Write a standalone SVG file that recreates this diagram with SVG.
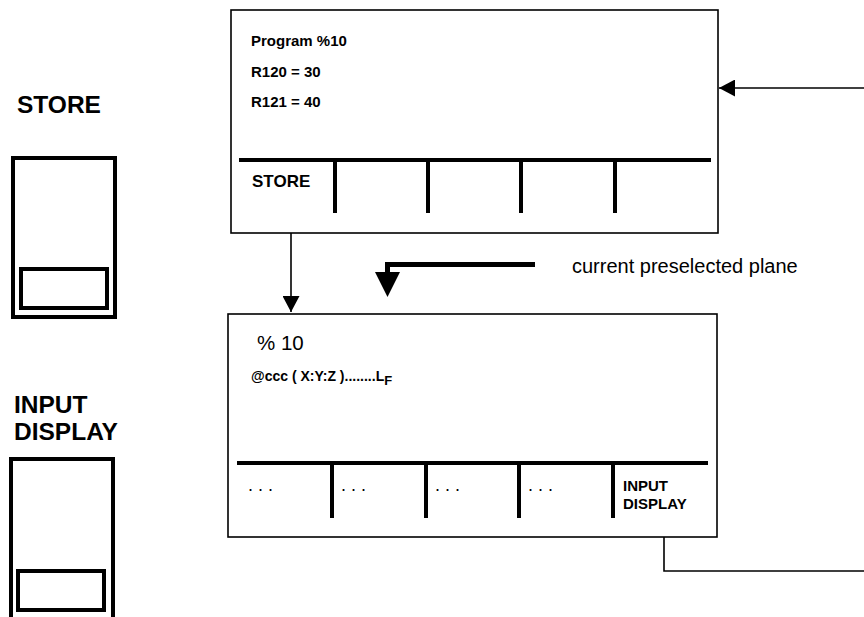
<svg xmlns="http://www.w3.org/2000/svg" width="864" height="617" viewBox="0 0 864 617">
<defs>
<style>
.box{fill:#fff;stroke:#000;stroke-width:1.6}
.thick{stroke:#000;stroke-width:4;fill:none}
.btn{fill:none;stroke:#000;stroke-width:4}
.thin{stroke:#000;stroke-width:1.6;fill:none}
text{font-family:"Liberation Sans",Arial,sans-serif;fill:#000}
.b{font-weight:bold}
</style>
<marker id="ah" markerWidth="17" markerHeight="17" refX="16" refY="8.5" orient="auto" markerUnits="userSpaceOnUse">
<path d="M0,0 L16,8.5 L0,17 Z" fill="#000"/>
</marker>
</defs>
<rect width="864" height="617" fill="#fff"/>

<g id="store-key">
<text class="b" x="17" y="113" font-size="24.5">STORE</text>
<rect class="btn" x="13" y="158" width="102" height="159"/>
<rect class="btn" x="21" y="269" width="86" height="39"/>
</g>

<g id="input-display-key">
<text class="b" x="14" y="413" font-size="24.5">INPUT</text>
<text class="b" x="14" y="440" font-size="24.5">DISPLAY</text>
<rect class="btn" x="11" y="459" width="102" height="162"/>
<rect class="btn" x="18" y="571" width="86" height="39"/>
</g>

<g id="screen-store">
<rect class="box" x="231" y="10" width="487" height="223"/>
<text class="b" x="251" y="46" font-size="15">Program %10</text>
<text class="b" x="251" y="77" font-size="15">R120 = 30</text>
<text class="b" x="251" y="107" font-size="15">R121 = 40</text>
<line class="thick" x1="239" y1="160" x2="711" y2="160"/>
<line class="thick" x1="335" y1="160" x2="335" y2="213"/>
<line class="thick" x1="428" y1="160" x2="428" y2="213"/>
<line class="thick" x1="521" y1="160" x2="521" y2="213"/>
<line class="thick" x1="615" y1="160" x2="615" y2="213"/>
<text class="b" x="252" y="187" font-size="17">STORE</text>
</g>

<g id="screen-input">
<rect class="box" x="228" y="314" width="489" height="223"/>
<text x="257" y="350" font-size="20.5">% 10</text>
<text class="b" x="251" y="381" font-size="14">@ccc ( X:Y:Z )........L<tspan font-size="13" dy="4">F</tspan></text>
<line class="thick" x1="237" y1="463" x2="708" y2="463"/>
<line class="thick" x1="332" y1="463" x2="332" y2="518"/>
<line class="thick" x1="426" y1="463" x2="426" y2="518"/>
<line class="thick" x1="519" y1="463" x2="519" y2="518"/>
<line class="thick" x1="613" y1="463" x2="613" y2="518"/>
<text x="248" y="491" font-size="18">. . .</text>
<text x="341" y="491" font-size="18">. . .</text>
<text x="435" y="491" font-size="18">. . .</text>
<text x="528" y="491" font-size="18">. . .</text>
<text class="b" x="623" y="491" font-size="15">INPUT</text>
<text class="b" x="623" y="509" font-size="15">DISPLAY</text>
</g>

<g id="plane-note">
<text x="572" y="273" font-size="20">current preselected plane</text>
</g>

<g id="connectors">
<line class="thin" x1="864" y1="88" x2="719" y2="88" marker-end="url(#ah)"/>
<line class="thin" x1="291" y1="233" x2="291" y2="312" marker-end="url(#ah)"/>
<polyline class="thin" points="664,537 664,571 864,571"/>
<polyline points="535,264.5 387.5,264.5 387.5,273" fill="none" stroke="#000" stroke-width="5"/>
<path d="M375,272 L400,272 L387.5,297 Z" fill="#000"/>
</g>
</svg>
